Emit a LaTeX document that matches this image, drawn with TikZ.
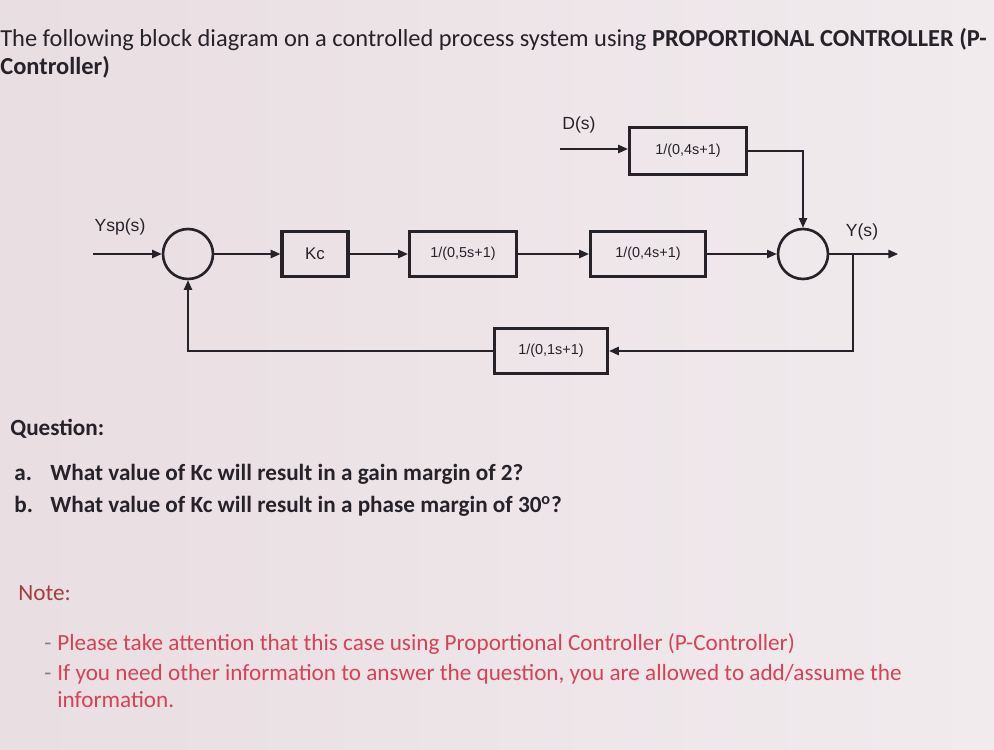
\documentclass[tikz,border=0pt]{standalone}
\usepackage{fontspec}
\setmainfont{Carlito}
\newfontfamily\diagfont{Liberation Sans}
\usetikzlibrary{arrows.meta}
\definecolor{paperl}{RGB}{233,222,226}
\definecolor{paperr}{RGB}{241,235,238}
\definecolor{ink}{RGB}{38,34,42}
\definecolor{notered}{RGB}{214,66,86}
\definecolor{notedark}{RGB}{160,62,64}

\begin{document}
\begin{tikzpicture}[x=0.02cm, y=-0.02cm,
	block/.style={draw=ink, line width=1.9pt, minimum height=0.9cm, inner sep=0pt, text=ink, font=\diagfont\fontsize{8.2}{9}\selectfont},
	sum/.style={draw=ink, circle, line width=1.5pt, minimum size=1cm, inner sep=0pt},
	sig/.style={draw=ink, line width=0.7pt, -{Triangle[length=5.5pt,width=4.8pt]}},
	lab/.style={text=ink, inner sep=0pt, font=\diagfont\fontsize{10}{11}\selectfont},
	para/.style={anchor=base west, inner sep=0pt, text=ink, font=\fontsize{13.2}{15}\selectfont},
	note/.style={anchor=base west, inner sep=0pt, text=notered, font=\fontsize{13.2}{15}\selectfont}]
	\shade[left color=paperl, right color=paperr] (0,0) rectangle (994,750);
	\useasboundingbox (0,0) rectangle (994,750);
	% title and question
	\node[para, font=\fontsize{13.9}{16}\selectfont] (title1) at (0,47) {The following block diagram on a controlled process system using \textbf{PROPORTIONAL CONTROLLER (P-}};
	\node[para, font=\fontsize{13.9}{16}\selectfont] (title2) at (0,75) {\textbf{Controller)}};
	\node[para] (quest) at (10,435) {\textbf{Question:}};
	\node[para] (qa) at (14,480) {\textbf{a.}};
	\node[para] (qatext) at (50,480) {\textbf{What value of Kc will result in a gain margin of 2?}};
	\node[para] (qb) at (14,512) {\textbf{b.}};
	\node[para] (qbtext) at (50,512) {\textbf{What value of Kc will result in a phase margin of 30\textsuperscript{o}?}};
	% block diagram
	\node[sum] (sumin) at (188,254) {};
	\node[block, minimum width=1.32cm, font=\diagfont\fontsize{9.6}{10}\selectfont] (kc) at (315,254) {Kc};
	\node[block, minimum width=2.14cm] (gc) at (463,254) {1/(0,5s+1)};
	\node[block, minimum width=2.3cm] (gp) at (648,254) {1/(0,4s+1)};
	\node[block, minimum width=2.34cm, minimum height=0.94cm] (gd) at (688,151) {1/(0,4s+1)};
	\node[sum] (sumout) at (803,254) {};
	\node[block, minimum width=2.26cm] (gm) at (551,351) {1/(0,1s+1)};
	\coordinate (ysp) at (93,254);
	\coordinate (dist) at (560,149);
	\coordinate (yout) at (898,254);
	\coordinate (tap) at (853,254);
	\node[lab] (ysplab) at (120,227) {Ysp(s)};
	\node[lab] (dlab) at (579,125) {D(s)};
	\node[lab] (ylab) at (862,232) {Y(s)};
	\draw[sig] (ysp) -- (sumin);
	\draw[sig] (sumin) -- (kc);
	\draw[sig] (kc) -- (gc);
	\draw[sig] (gc) -- (gp);
	\draw[sig] (gp) -- (sumout);
	\draw[sig] (dist) -- (gd.west |- dist);
	\draw[sig] (gd.east) -| (sumout.north);
	\draw[sig] (sumout) -- (yout);
	\draw[sig] (tap) |- (gm.east);
	\draw[sig] (gm.west) -| (sumin.south);
	% note
	\node[note, text=notedark] (notehead) at (18,600) {Note:};
	\node[note, text=gray] (dash1) at (44,650) {-};
	\node[note] (note1) at (57,650) {Please take attention that this case using Proportional Controller (P-Controller)};
	\node[note, text=gray] (dash2) at (44,680) {-};
	\node[note] (note2) at (57,680) {If you need other information to answer the question, you are allowed to add/assume the};
	\node[note] (note3) at (57,707) {information.};
\end{tikzpicture}
\end{document}
